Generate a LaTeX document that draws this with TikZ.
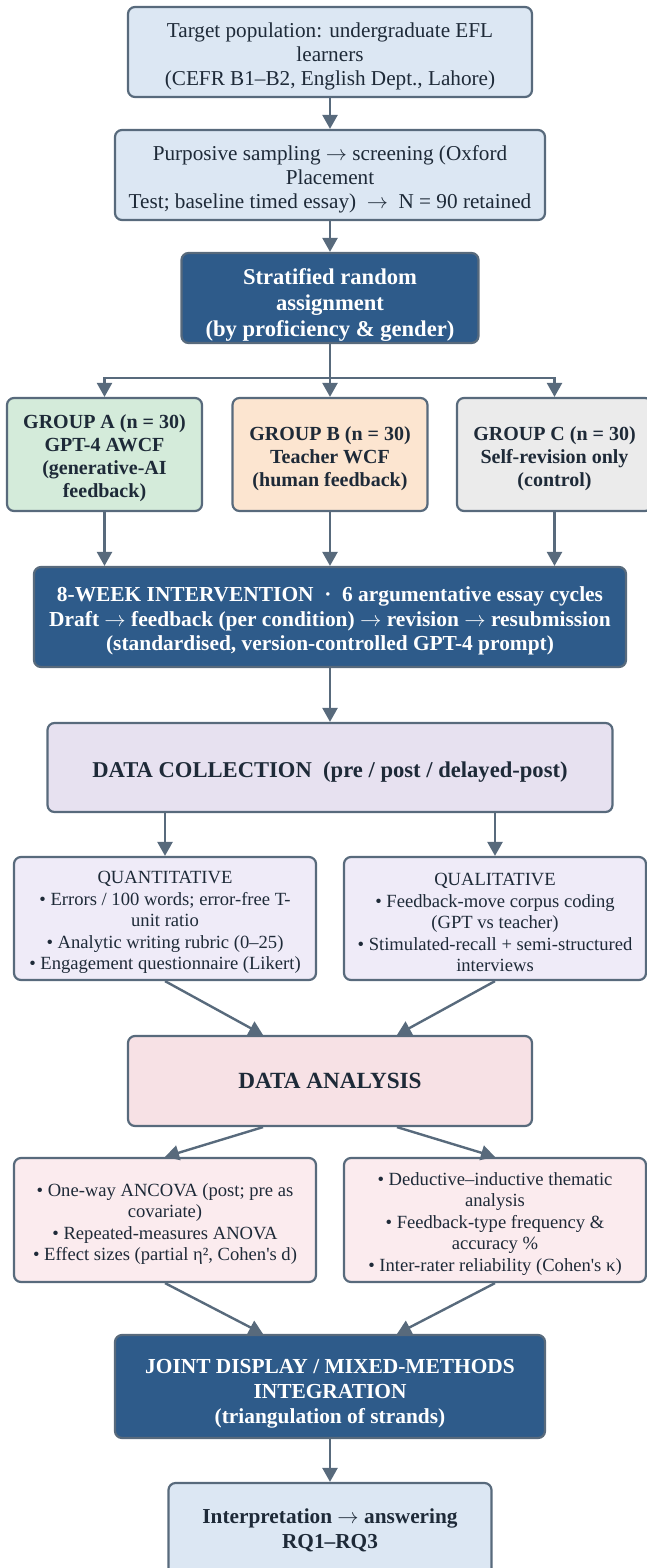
\RequirePackage{fix-cm}
\documentclass[tikz,border=0pt]{standalone}
\usepackage{fontspec}
\setmainfont{Liberation Serif}
\usetikzlibrary{arrows.meta,calc}
\definecolor{edge}{HTML}{586A7C}
\definecolor{txt}{HTML}{1E2A38}
\definecolor{lblue}{HTML}{DCE7F3}
\definecolor{dblue}{HTML}{2E5B8A}
\definecolor{lgreen}{HTML}{D4EBDA}
\definecolor{peach}{HTML}{FCE5D0}
\definecolor{lgray}{HTML}{EBEBEB}
\definecolor{lav}{HTML}{E7E1F0}
\definecolor{lavlight}{HTML}{EFEBF8}
\definecolor{pink}{HTML}{F7E1E5}
\definecolor{pinklight}{HTML}{FBEBEE}
\newcommand\fsz[2]{\fontsize{#1}{#2}\selectfont}
\newcommand\up{\rule{0pt}{1.1em}}
\newcommand\upp{\rule{0pt}{1.3em}}
\newcommand\ra{$\rightarrow$}
\begin{document}
\begin{tikzpicture}[x=1pt,y=-1pt,
  box/.style={draw=edge, line width=2.2pt, rounded corners=7pt, align=center, text=txt, inner sep=0pt},
  darkbox/.style={box, fill=dblue, text=white, font=\bfseries\fsz{21.4}{24.5}},
  arr/.style={draw=edge, line width=2.4pt, -{Triangle[length=14pt,width=15pt]}},
  ln/.style={draw=edge, line width=2.4pt}]
\useasboundingbox (0,0) rectangle (647,1568);
\clip (0,0) rectangle (647,1568);

\node[box, fill=lblue, minimum width=404pt, minimum height=90pt, font=\fsz{21.2}{24.2}] (pop) at (330,52)
  {\up Target population: undergraduate EFL\\learners\\(CEFR B1–B2, English Dept., Lahore)};
\node[box, fill=lblue, minimum width=430pt, minimum height=90pt, font=\fsz{21.2}{24.2}] (samp) at (330,175)
  {\up Purposive sampling \ra{} screening (Oxford\\Placement\\Test; baseline timed essay)\ \ \ra\ \ N = 90 retained};
\node[darkbox, minimum width=297pt, minimum height=90pt, font=\bfseries\fsz{22.6}{26}] (strat) at (330,298)
  {\upp Stratified random\\assignment\\(by proficiency \& gender)};

\node[box, fill=lgreen, minimum width=195pt, minimum height=113pt, font=\bfseries\fsz{20}{23}] (ga) at (104.5,454.5)
  {\up GROUP A (n = 30)\\GPT-4 AWCF\\(generative-AI\\feedback)};
\node[box, fill=peach, minimum width=195pt, minimum height=113pt, font=\bfseries\fsz{20}{23}] (gb) at (330,454.5)
  {\up GROUP B (n = 30)\\Teacher WCF\\(human feedback)};
\node[box, fill=lgray, minimum width=195pt, minimum height=113pt, font=\bfseries\fsz{20}{23}] (gc) at (554.5,454.5)
  {\up GROUP C (n = 30)\\Self-revision only\\(control)};

\node[darkbox, minimum width=592pt, minimum height=100pt] (inter) at (330,617)
  {\up 8-WEEK INTERVENTION\ \ ·\ \ 6 argumentative essay cycles\\Draft \ra{} feedback (per condition) \ra{} revision \ra{} resubmission\\(standardised, version-controlled GPT-4 prompt)};

\node[box, fill=lav, minimum width=565pt, minimum height=89pt, font=\bfseries\fsz{22.6}{26}] (dc) at (330,767.5)
  {\up DATA COLLECTION\ \ (pre / post / delayed-post)};

\node[box, fill=lavlight, minimum width=302pt, minimum height=123pt, font=\fsz{18.6}{21.5}] (quant) at (165,918.5)
  {\up QUANTITATIVE\\• Errors / 100 words; error-free T-\\unit ratio\\• Analytic writing rubric (0–25)\\• Engagement questionnaire (Likert)};
\node[box, fill=lavlight, minimum width=302pt, minimum height=123pt, font=\fsz{18.6}{21.5}] (qual) at (495,918.5)
  {\up QUALITATIVE\\• Feedback-move corpus coding\\(GPT vs teacher)\\• Stimulated-recall + semi-structured\\interviews};

\node[box, fill=pink, minimum width=404pt, minimum height=90pt, font=\bfseries\fsz{23.2}{26}] (da) at (330,1081)
  {DATA ANALYSIS};

\node[box, fill=pinklight, minimum width=302pt, minimum height=124pt, font=\fsz{18.6}{21.5}] (al) at (165,1220)
  {\up • One-way ANCOVA (post; pre as\\covariate)\\• Repeated-measures ANOVA\\• Effect sizes (partial η², Cohen\textquotesingle s d)};
\node[box, fill=pinklight, minimum width=302pt, minimum height=124pt, font=\fsz{18.6}{21.5}] (ar) at (495,1220)
  {\up • Deductive–inductive thematic\\analysis\\• Feedback-type frequency \&\\accuracy \%\\• Inter-rater reliability (Cohen\textquotesingle s κ)};

\node[darkbox, minimum width=430pt, minimum height=103pt, font=\bfseries\fsz{21.4}{25}] (joint) at (330,1386.5)
  {\upp JOINT DISPLAY / MIXED-METHODS\\INTEGRATION\\(triangulation of strands)};

\node[box, fill=lblue, minimum width=323pt, minimum height=94pt, font=\bfseries\fsz{21.3}{25}] (final) at (330,1530)
  {Interpretation \ra{} answering\\RQ1–RQ3};

% connectors
\draw[arr] (pop) -- (samp);
\draw[arr] (samp) -- (strat);
\coordinate (split) at ($(strat.south)+(0,34)$);
\draw[ln] (strat.south) -- (split);
\draw[arr] (split) -| (ga.north);
\draw[arr] (split) -- (gb.north);
\draw[arr] (split) -| (gc.north);
\draw[arr] (ga.south) -- (ga.south |- inter.north);
\draw[arr] (gb.south) -- (gb.south |- inter.north);
\draw[arr] (gc.south) -- (gc.south |- inter.north);
\draw[arr] (inter) -- (dc);
\draw[arr] (quant.north |- dc.south) -- (quant.north);
\draw[arr] (qual.north |- dc.south) -- (qual.north);
\draw[arr] (quant.south) -- ($(da.north)+(-67,0)$);
\draw[arr] (qual.south) -- ($(da.north)+(67,0)$);
\draw[arr] ($(da.south)+(-67,0)$) -- (al.north);
\draw[arr] ($(da.south)+(67,0)$) -- (ar.north);
\draw[arr] (al.south) -- ($(joint.north)+(-67,0)$);
\draw[arr] (ar.south) -- ($(joint.north)+(67,0)$);
\draw[arr] (joint) -- (final);
\end{tikzpicture}
\end{document}
